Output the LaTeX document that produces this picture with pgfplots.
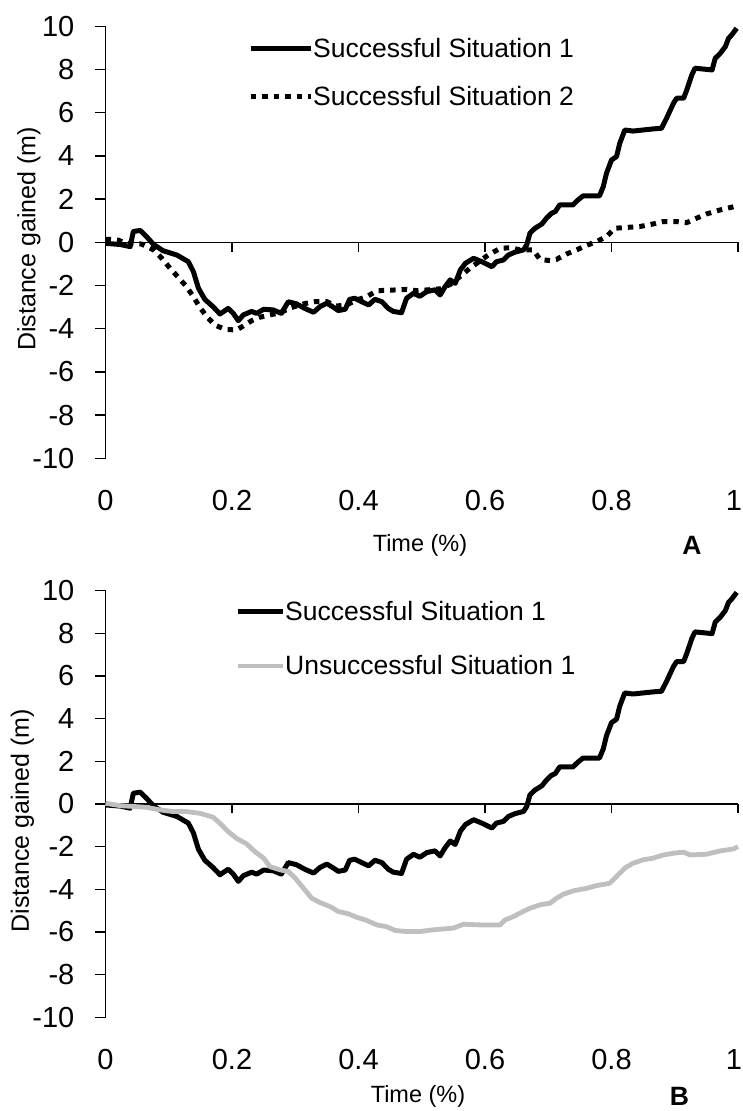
\documentclass[border=0pt]{standalone}
\usepackage{fontspec}
\setmainfont{Liberation Sans}
\usepackage{pgfplots}
\pgfplotsset{compat=1.18}
\usepackage{pgfplotstable}

\definecolor{lgray}{RGB}{191,191,191}

% Successful situation 1
\pgfplotstableread{
x y
0 -0.05
0.023 -0.1
0.039 -0.2
0.044 0.5
0.055 0.55
0.065 0.26
0.076 -0.1
0.091 -0.39
0.113 -0.59
0.131 -0.9
0.139 -1.36
0.147 -2.13
0.157 -2.64
0.17 -2.98
0.181 -3.32
0.194 -3.06
0.202 -3.29
0.21 -3.63
0.218 -3.36
0.231 -3.2
0.239 -3.29
0.25 -3.1
0.265 -3.13
0.278 -3.29
0.289 -2.75
0.302 -2.85
0.315 -3.06
0.329 -3.24
0.339 -2.98
0.35 -2.82
0.36 -3.0
0.368 -3.16
0.379 -3.1
0.386 -2.64
0.394 -2.59
0.405 -2.75
0.416 -2.9
0.426 -2.64
0.437 -2.75
0.447 -3.06
0.455 -3.2
0.468 -3.26
0.476 -2.59
0.487 -2.36
0.497 -2.5
0.508 -2.28
0.521 -2.2
0.529 -2.44
0.537 -2.05
0.545 -1.74
0.553 -1.9
0.561 -1.28
0.569 -0.97
0.582 -0.74
0.595 -0.9
0.611 -1.13
0.618 -0.9
0.629 -0.82
0.637 -0.59
0.647 -0.46
0.661 -0.35
0.666 -0.12
0.671 0.42
0.679 0.65
0.69 0.85
0.697 1.11
0.705 1.34
0.711 1.42
0.718 1.73
0.739 1.73
0.747 1.96
0.755 2.15
0.781 2.15
0.787 2.58
0.792 3.19
0.8 3.81
0.808 3.97
0.813 4.58
0.821 5.2
0.834 5.15
0.866 5.25
0.879 5.28
0.887 5.74
0.898 6.44
0.903 6.67
0.914 6.67
0.919 7.05
0.927 7.75
0.932 8.06
0.959 7.98
0.964 8.52
0.972 8.75
0.98 9.06
0.985 9.44
0.99 9.6
0.998 9.91
}\succone

% Successful situation 2
\pgfplotstableread{
x y
0 0.14
0.007 0.14
0.02 0.1
0.033 -0.05
0.057 -0.08
0.076 -0.35
0.089 -0.74
0.102 -1.2
0.115 -1.62
0.128 -2.05
0.139 -2.52
0.149 -3.0
0.16 -3.44
0.173 -3.83
0.189 -4.03
0.207 -4.06
0.218 -3.87
0.231 -3.63
0.244 -3.47
0.26 -3.36
0.276 -3.26
0.294 -3.02
0.313 -2.85
0.331 -2.75
0.35 -2.75
0.365 -2.95
0.381 -2.9
0.397 -2.67
0.413 -2.52
0.429 -2.24
0.455 -2.21
0.476 -2.18
0.492 -2.24
0.51 -2.2
0.53 -2.15
0.545 -1.95
0.56 -1.6
0.576 -1.2
0.605 -0.59
0.624 -0.28
0.64 -0.25
0.655 -0.35
0.676 -0.35
0.687 -0.79
0.703 -0.85
0.713 -0.79
0.729 -0.54
0.745 -0.35
0.76 -0.15
0.776 0.03
0.792 0.26
0.805 0.65
0.824 0.69
0.845 0.73
0.866 0.85
0.882 0.96
0.903 0.96
0.919 0.91
0.934 1.11
0.95 1.31
0.972 1.5
0.998 1.68
}\succtwo

% Unsuccessful situation 1
\pgfplotstableread{
x y
0 0.03
0.023 -0.08
0.044 -0.12
0.065 -0.16
0.086 -0.28
0.107 -0.36
0.128 -0.36
0.149 -0.44
0.17 -0.62
0.181 -0.91
0.194 -1.3
0.207 -1.61
0.223 -1.87
0.236 -2.23
0.25 -2.54
0.26 -2.94
0.276 -3.09
0.289 -3.17
0.3 -3.48
0.313 -3.95
0.326 -4.42
0.339 -4.62
0.355 -4.81
0.368 -5.04
0.384 -5.15
0.397 -5.31
0.413 -5.46
0.429 -5.67
0.444 -5.75
0.458 -5.93
0.476 -5.98
0.497 -5.98
0.518 -5.9
0.55 -5.82
0.566 -5.64
0.592 -5.67
0.624 -5.67
0.632 -5.43
0.645 -5.28
0.655 -5.12
0.671 -4.89
0.687 -4.73
0.703 -4.65
0.713 -4.42
0.724 -4.23
0.74 -4.07
0.761 -3.95
0.776 -3.83
0.797 -3.72
0.808 -3.4
0.821 -3.01
0.834 -2.78
0.85 -2.62
0.866 -2.54
0.882 -2.39
0.898 -2.31
0.914 -2.26
0.924 -2.39
0.95 -2.36
0.972 -2.2
0.993 -2.11
1.0 -2.0
}\unsuccone

\tikzset{
  s1/.style={black, line width=5pt, line join=round},
  s2/.style={black, line width=5pt, dash pattern=on 5.5pt off 6pt},
  u1/.style={lgray, line width=4.8pt, line join=round},
  zeroline/.style={line width=1.3pt, black},
}

\pgfplotsset{
  panel/.style={
    scale only axis, width=632.5pt,
    xmin=0, xmax=1, ymin=-10, ymax=10,
    axis y line*=left, axis x line*=bottom,
    x axis line style={draw=none},
    y axis line style={line width=1.3pt},
    xtick={0,0.2,0.4,0.6,0.8,1},
    xticklabels={0,0.2,0.4,0.6,0.8,\makebox[8pt][r]{1}},
    ytick={-10,-8,-6,-4,-2,0,2,4,6,8,10},
    tick align=outside, major tick length=10pt,
    ytick style={line width=1.3pt, black},
    xtick style={draw=none},
    tick label style={font=\fontsize{29}{34}\selectfont},
    /pgf/number format/assume math mode=true,
    yticklabel style={anchor=east, inner sep=0pt, xshift=-21pt},
    xticklabel style={anchor=north, inner sep=0pt, yshift=-22pt},
    clip=false,
    legend cell align=left,
    legend image code/.code={\draw[##1] (0pt,0pt) -- (60pt,0pt);},
    legend style={draw=none, fill=none, inner sep=0pt,
      font=\fontsize{26.5}{31}\selectfont,
      nodes={inner sep=0pt},
      /tikz/every even column/.append style={column sep=2pt}},
  },
}

\begin{document}
\begin{tikzpicture}
\useasboundingbox (0pt,0pt) rectangle (742pt,-1111pt);

% Panel A
\begin{axis}[panel, at={(105.5pt,-458.3pt)}, anchor=south west, height=432pt,
  legend style={at={(rel axis cs:0.2253,0.972)}, anchor=north west, row sep=27pt}]
  \draw[zeroline] (axis cs:0,0) -- (axis cs:1,0);
  \draw[zeroline] (axis cs:0.2,0) -- ++(0pt,-9.5pt);
  \draw[zeroline] (axis cs:0.4,0) -- ++(0pt,-9.5pt);
  \draw[zeroline] (axis cs:0.6,0) -- ++(0pt,-9.5pt);
  \draw[zeroline] (axis cs:0.8,0) -- ++(0pt,-9.5pt);
  \draw[zeroline] (axis cs:1,0) -- ++(0pt,-9.5pt);
  \addplot[s1] table[x=x, y=y] {\succone};
  \addlegendentry{Successful Situation 1}
  \addplot[s2] table[x=x, y=y] {\succtwo};
  \addlegendentry{Successful Situation 2}
\end{axis}

% Panel B
\begin{axis}[panel, at={(105.5pt,-1017.3pt)}, anchor=south west, height=426.8pt,
  legend image code/.code={\draw[#1] (0pt,0pt) -- (45pt,0pt);},
  legend style={at={(rel axis cs:0.2047,0.976)}, anchor=north west, row sep=34pt}]
  \draw[zeroline] (axis cs:0,0) -- (axis cs:1,0);
  \draw[zeroline] (axis cs:0.2,0) -- ++(0pt,-9.5pt);
  \draw[zeroline] (axis cs:0.4,0) -- ++(0pt,-9.5pt);
  \draw[zeroline] (axis cs:0.6,0) -- ++(0pt,-9.5pt);
  \draw[zeroline] (axis cs:0.8,0) -- ++(0pt,-9.5pt);
  \draw[zeroline] (axis cs:1,0) -- ++(0pt,-9.5pt);
  \addplot[s1] table[x=x, y=y] {\succone};
  \addlegendentry{Successful Situation 1}
  \addplot[u1] table[x=x, y=y] {\unsuccone};
  \addlegendentry{Unsuccessful Situation 1}
\end{axis}

% Axis titles and panel letters
\node[rotate=90, font=\fontsize{25}{30}\selectfont] at (29pt,-239pt) {Distance gained (m)};
\node[rotate=90, font=\fontsize{25}{30}\selectfont] at (22.5pt,-820.7pt) {Distance gained (m)};
\node[font=\fontsize{23.5}{28}\selectfont] at (420pt,-545.5pt) {Time (\%)};
\node[font=\fontsize{23.5}{28}\selectfont] at (418pt,-1096pt) {Time (\%)};
\node[font=\fontsize{26.5}{30}\selectfont\bfseries] at (692pt,-545pt) {A};
\node[font=\fontsize{26.5}{30}\selectfont\bfseries] at (679.5pt,-1096pt) {B};
\end{tikzpicture}
\end{document}
